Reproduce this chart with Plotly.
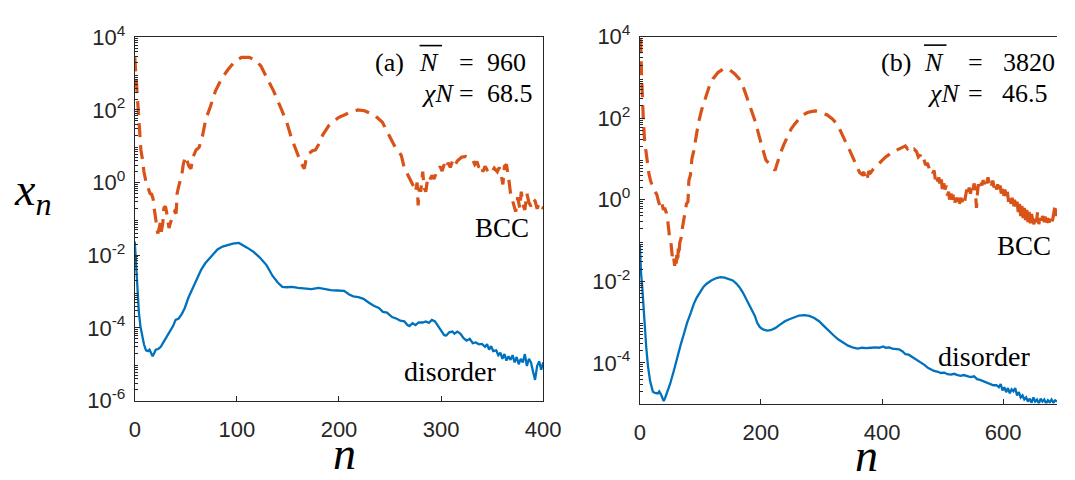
import plotly.graph_objects as go

# ---------------- data (y values given as log10(x_n)) ----------------
# Panel (a)  N = 960, chi N = 68.5
a_bcc_n = [0, 1, 2, 3, 4, 5, 6, 7.5, 9, 11, 13, 15, 16.5, 18, 19, 20.5, 21.5, 22.5, 24, 25, 26, 27.5, 28.5, 30, 31, 32,
           33.5, 35, 37, 39, 40.5, 41.5, 43, 44.5, 46, 47.5, 49.5, 51, 53, 55, 57, 60, 63, 66.5, 69.5, 74, 79, 85, 91.5,
           98, 104.5, 112, 118, 123.5, 130, 136, 142.5, 149, 153.5, 158, 163, 166, 167.5, 170, 174, 177, 180, 184, 190,
           199.5, 209, 218.5, 225, 235, 242.5, 250.5, 255, 258, 261, 264, 268, 271, 273, 275, 276.5, 277.5, 278.5, 280,
           282, 283.5, 285, 287, 289, 291, 293, 295, 297, 299, 301, 303, 305, 307, 309, 311, 313, 316, 320, 324, 328,
           331, 333, 335, 337, 339, 341, 343, 345, 348, 350, 352, 355, 357, 359, 360.5, 362, 364, 366, 368, 369.5, 371,
           373, 375, 377, 378.5, 380, 382, 384, 386, 388, 390, 392, 394, 396, 398, 400]
a_bcc_log = [3.45, 3.0, 2.5, 2.0, 1.5, 1.15, 0.9, 0.65, 0.3, 0.02, -0.15, -0.3, -0.32, -0.45, -0.7, -0.95, -1.15, -1.4,
             -1.25, -1.1, -1.35, -1.1, -0.7, -0.65, -0.78, -1.05, -1.25, -1.1, -0.95, -0.8, -0.85, -0.3, -0.1, 0.05,
             0.2, 0.5, 0.72, 0.62, 0.45, 0.38, 0.7, 0.9, 0.97, 1.31, 1.74, 2.09, 2.52, 2.86, 3.12, 3.34, 3.45, 3.45,
             3.38, 3.21, 2.86, 2.52, 2.09, 1.65, 1.22, 0.88, 0.53, 0.38, 0.6, 0.79, 0.88, 0.9, 1.05, 1.31, 1.57, 1.79,
             1.91, 2.0, 1.98, 1.85, 1.66, 1.22, 0.98, 0.88, 0.75, 0.4, 0.18, 0.02, -0.1, -0.25, 0.0, -0.63, -0.15,
             -0.25, 0.3, -0.15, -0.25, 0.15, 0.08, 0.2, 0.1, 0.24, 0.28, 0.45, 0.32, 0.5, 0.38, 0.55, 0.42, 0.58, 0.45,
             0.6, 0.7, 0.72, 0.65, 0.62, 0.5, 0.58, 0.42, 0.5, 0.3, 0.45, 0.35, 0.4, 0.3, 0.4, 0.3, 0.42, 0.18, -0.05,
             0.45, 0.5, 0.15, -0.3, -0.45, -0.6, -0.8, -0.4, -0.7, -0.25, -0.6, -0.75, -0.3, -0.55, -0.65, -0.45, -0.5,
             -0.72, -0.55, -0.68, -0.7]

a_dis_n = [0, 1, 2, 3, 4, 5.5, 7, 9, 11, 13, 14.5, 16, 17.5, 19, 20.5, 23, 25.5, 28, 30, 33, 35, 37.5, 40, 43, 46, 49,
           52.5, 56, 59, 62, 65, 69, 73, 77, 81, 86, 91, 96, 102, 106, 110, 116, 122, 129, 135, 140, 144.5, 149, 154,
           160, 167, 173, 180, 186, 192, 198, 205, 210, 214, 219, 224, 229, 234, 239, 243, 247, 252, 256, 260, 264,
           267, 269, 272, 275, 278, 282, 285, 288, 291, 294, 297, 300, 303, 305, 308, 311, 313, 316, 319, 322, 325,
           328, 331, 334, 337, 340, 343, 345, 347, 349, 351, 354, 356, 358, 360, 362, 364, 366, 368, 370, 372, 374,
           376, 378, 380, 382, 384, 386, 388, 390, 392, 394, 396, 398, 400]
a_dis_log = [-1.62, -2.1, -2.6, -3.1, -3.55, -3.95, -4.2, -4.45, -4.62, -4.64, -4.6, -4.72, -4.78, -4.7, -4.6, -4.58,
             -4.52, -4.4, -4.3, -4.15, -4.08, -3.95, -3.78, -3.74, -3.62, -3.45, -3.17, -2.95, -2.74, -2.55, -2.4,
             -2.22, -2.09, -1.95, -1.84, -1.76, -1.71, -1.68, -1.66, -1.72, -1.79, -1.9, -2.05, -2.27, -2.57, -2.75,
             -2.87, -2.88, -2.87, -2.9, -2.91, -2.93, -2.9, -2.94, -2.96, -2.97, -2.98, -3.08, -3.13, -3.15, -3.2,
             -3.3, -3.39, -3.45, -3.56, -3.58, -3.7, -3.74, -3.8, -3.82, -3.92, -3.95, -3.87, -3.92, -3.85, -3.85,
             -3.82, -3.86, -3.78, -3.82, -3.95, -4.05, -4.2, -4.21, -4.12, -4.1, -4.16, -4.1, -4.16, -4.28, -4.35,
             -4.3, -4.42, -4.4, -4.45, -4.44, -4.52, -4.45, -4.6, -4.5, -4.64, -4.62, -4.75, -4.68, -4.85, -4.72,
             -4.9, -4.78, -4.88, -4.75, -4.95, -4.8, -5.0, -4.85, -4.95, -4.72, -5.05, -4.85, -4.95, -5.2, -5.43,
             -5.05, -4.92, -5.15, -4.95]

# Panel (b)  N = 3820, chi N = 46.5
b_bcc_n = [0, 1.5, 2.5, 3.8, 6, 8, 10.8, 13, 15, 18, 20, 22, 25, 28, 31, 33, 35, 37, 39, 41, 44, 46, 47.5, 49, 51, 52,
           53.5, 55, 56.5, 57.5, 58.5, 60, 61, 62.5, 63.5, 64.5, 66, 68, 70, 72.5, 75, 77, 79.5, 81, 83.5, 86, 89, 93,
           97, 102, 108, 114, 121, 129, 137, 143, 148, 156, 164, 170, 175, 180, 186, 191, 196.5, 200, 204.5, 208,
           212.5, 217, 221, 223.5, 226, 229, 232, 238, 245, 250, 256, 261, 266.5, 272, 277, 283, 290, 296, 303,
           309.5, 318, 325.5, 331, 336.5, 342, 347, 351, 355, 359, 363, 367, 370, 372, 374, 376, 378, 381, 385, 390,
           395.5, 401, 406, 411, 417, 422, 428, 433, 438.5, 442, 445, 449.5, 453, 457, 460, 463, 466, 469, 472, 475,
           478, 481, 484, 486, 488, 490, 492, 494, 496, 498, 500, 502, 504, 506, 508, 510, 512, 514, 516, 518, 520,
           522, 524, 526, 528, 530, 532, 534, 536, 538, 540, 542, 544, 546, 548, 550, 552, 554, 556, 557, 559, 561,
           563, 565, 567, 569, 571, 573, 575, 577, 579, 581, 583, 585, 587, 589, 591, 593, 595, 597, 599, 601, 603,
           605, 607, 609, 611, 613, 615, 617, 619, 621, 623, 625, 627, 629, 631, 633, 635, 637, 639, 641, 643, 645,
           647, 649, 651, 653, 655, 657, 659, 661, 663, 665, 668, 670, 672, 674, 676, 678, 680, 682, 684, 686, 688,
           690]
b_bcc_log = [3.93, 3.89, 3.2, 2.59, 1.9, 1.43, 1.05, 0.8, 0.64, 0.45, 0.36, 0.29, 0.2, 0.13, -0.05, -0.12, -0.22,
             -0.12, -0.25, -0.2, -0.33, -0.5, -0.77, -0.9, -1.0, -1.25, -1.38, -1.3, -1.55, -1.62, -1.45, -1.6, -1.35,
             -1.55, -1.2, -1.38, -1.05, -0.95, -0.72, -0.5, -0.3, -0.1, -0.05, 0.47, 0.6, 1.0, 1.2, 1.55, 1.9, 2.2,
             2.51, 2.75, 2.97, 3.12, 3.2, 3.22, 3.19, 3.1, 2.97, 2.8, 2.59, 2.37, 2.13, 1.9, 1.59, 1.38, 1.13, 0.98,
             0.9, 0.82, 0.76, 0.72, 0.85, 1.0, 1.13, 1.36, 1.59, 1.74, 1.86, 1.96, 2.05, 2.1, 2.14, 2.16, 2.18, 2.16,
             2.12, 2.08, 1.98, 1.86, 1.7, 1.51, 1.35, 1.2, 1.05, 0.9, 0.8, 0.67, 0.62, 0.68, 0.52, 0.6, 0.55, 0.7,
             0.66, 0.74, 0.82, 0.9, 0.97, 1.05, 1.1, 1.17, 1.2, 1.24, 1.28, 1.32, 1.25, 1.3, 1.22, 1.24, 1.18, 1.05,
             1.1, 0.95, 1.0, 0.85, 0.9, 0.76, 0.8, 0.65, 0.72, 0.5, 0.62, 0.45, 0.55, 0.3, 0.5, 0.2, 0.4, 0.25, 0.35,
             0.1, 0.2, -0.05, 0.15, 0.0, 0.12, -0.08, 0.05, -0.05, 0.08, -0.1, 0.05, -0.05, 0.02, -0.1, 0.1, 0.25,
             0.12, 0.3, 0.15, 0.32, 0.2, 0.4, 0.25, -0.2, 0.05, 0.38, 0.3, 0.45, 0.35, 0.48, 0.38, 0.52, 0.4, 0.55,
             0.42, 0.5, 0.35, 0.47, 0.3, 0.42, 0.25, 0.38, 0.2, 0.35, 0.15, 0.3, 0.1, 0.25, 0.05, 0.2, -0.05, 0.12,
             -0.1, 0.05, -0.2, 0.0, -0.25, -0.05, -0.3, -0.1, -0.4, -0.15, -0.45, -0.2, -0.5, -0.25, -0.55, -0.3,
             -0.58, -0.35, -0.5, -0.6, -0.4, -0.55, -0.3, -0.6, -0.45, -0.58, -0.4, -0.55, -0.4, -0.58, -0.45, -0.56,
             -0.42, -0.55, -0.48, -0.3, -0.12, -0.4, -0.2]

b_dis_n = [0, 1, 2, 3.8, 6, 8, 10.5, 13.5, 17, 21.6, 25, 29.7, 32, 35, 37, 39.4, 42, 45.8, 50, 56.6, 62, 67.4, 73, 78,
           84, 89, 94, 99.7, 105, 110.4, 118, 126.6, 133, 140, 147, 153.5, 159, 164.3, 170, 175, 180, 185.8, 190,
           193.9, 198, 202, 206, 210, 216, 223.5, 231, 239.6, 247, 255.8, 263, 271.9, 280, 288, 296, 304.2, 312,
           320.3, 328, 336.4, 344, 352.6, 360, 367, 374, 382, 389, 395.6, 402, 406, 412, 417, 423, 428, 434, 438.7,
           444, 449, 454, 460, 465, 470, 476.4, 482, 486, 492.5, 497, 503, 508, 514, 519, 525, 530, 535, 541, 546,
           552, 557, 562, 567, 573, 578.6, 584, 589, 593, 596, 599, 602, 605, 608, 611, 614, 617, 620, 623, 626,
           629, 632, 635, 638, 641, 644, 647, 650, 653, 656, 659, 662, 665, 668, 671, 674, 677, 680, 683, 686, 689]
b_dis_log = [-1.1, -1.5, -1.8, -2.1, -2.7, -3.17, -3.6, -4.09, -4.45, -4.71, -4.74, -4.75, -4.7, -4.78, -4.85, -4.94,
             -4.85, -4.71, -4.52, -4.17, -3.85, -3.56, -3.28, -3.02, -2.78, -2.56, -2.4, -2.25, -2.14, -2.06, -1.98,
             -1.92, -1.9, -1.91, -1.94, -1.98, -2.05, -2.14, -2.27, -2.41, -2.55, -2.71, -2.85, -3.02, -3.12, -3.17,
             -3.2, -3.21, -3.2, -3.15, -3.07, -2.98, -2.93, -2.87, -2.84, -2.83, -2.85, -2.9, -2.98, -3.1, -3.22,
             -3.33, -3.43, -3.52, -3.58, -3.63, -3.65, -3.63, -3.64, -3.63, -3.62, -3.63, -3.6, -3.63, -3.62, -3.65,
             -3.66, -3.67, -3.72, -3.79, -3.8, -3.85, -3.88, -3.96, -4.0, -4.05, -4.13, -4.18, -4.2, -4.22, -4.25,
             -4.24, -4.28, -4.29, -4.27, -4.3, -4.32, -4.3, -4.33, -4.35, -4.33, -4.4, -4.42, -4.45, -4.48, -4.52,
             -4.55, -4.55, -4.6, -4.52, -4.68, -4.6, -4.72, -4.62, -4.75, -4.65, -4.7, -4.62, -4.8, -4.72, -4.85,
             -4.8, -4.9, -4.85, -4.95, -4.88, -4.98, -4.85, -4.95, -4.9, -5.0, -4.88, -4.95, -4.9, -5.0, -4.92,
             -4.97, -4.9, -4.98, -4.92, -4.95]

a_xticks = [0, 100, 200, 300, 400]
b_xticks = [0, 200, 400, 600]
a_yexp = [-6, -4, -2, 0, 2, 4]
b_yexp = [-4, -2, 0, 2, 4]

# ---------------- figure ----------------
W, H = 1075, 480
BLUE = "#0072BD"
ORANGE = "#D95319"
AX = "#262626"
TICKFONT = dict(family="Liberation Sans, Arial, sans-serif", size=22, color=AX)
SERIF = "Liberation Serif, Times New Roman, serif"


def px(x):
    return x / W


def py(y):
    return 1 - y / H


def to_val(logs):
    return [10 ** v for v in logs]


def minor_vals(lo, hi):
    return [m * 10 ** e for e in range(lo, hi) for m in range(2, 10)]


DASH = dict(color=ORANGE, width=3.2, dash="14px,8px")
SOLID = dict(color=BLUE, width=2.3)

fig = go.Figure()
fig.add_trace(go.Scatter(x=a_bcc_n, y=to_val(a_bcc_log), mode="lines", xaxis="x", yaxis="y",
                         line=DASH, showlegend=False))
fig.add_trace(go.Scatter(x=a_dis_n, y=to_val(a_dis_log), mode="lines", xaxis="x", yaxis="y",
                         line=SOLID, showlegend=False))
fig.add_trace(go.Scatter(x=b_bcc_n, y=to_val(b_bcc_log), mode="lines", xaxis="x2", yaxis="y2",
                         line=DASH, showlegend=False))
fig.add_trace(go.Scatter(x=b_dis_n, y=to_val(b_dis_log), mode="lines", xaxis="x2", yaxis="y2",
                         line=SOLID, showlegend=False))

common_x = dict(showline=True, linecolor=AX, linewidth=1, ticks="inside", ticklen=5, tickcolor=AX,
                showgrid=False, zeroline=False, tickfont=TICKFONT, ticklabelstandoff=9)
common_y = dict(type="log", showline=True, linecolor=AX, linewidth=1, ticks="inside", ticklen=5, tickcolor=AX,
                showgrid=False, zeroline=False, tickfont=TICKFONT, ticklabelstandoff=4)

fig.update_layout(
    width=W, height=H, margin=dict(l=0, r=0, t=0, b=0), paper_bgcolor="white", plot_bgcolor="white",
    xaxis=dict(domain=[px(131.7), px(549.5)], range=[0, 400], anchor="y", mirror=True,
               tickvals=a_xticks, ticktext=[str(v) for v in a_xticks], **common_x),
    yaxis=dict(domain=[py(409.3), py(22.7)], range=[-6, 4], anchor="x", mirror=True,
               tickvals=[10 ** e for e in a_yexp], ticktext=["10<sup>%d</sup>" % e for e in a_yexp],
               minor=dict(tickvals=minor_vals(-6, 4), ticks="inside", ticklen=3, tickcolor=AX), **common_y),
    xaxis2=dict(domain=[px(648.3), 1.0], range=[0, 689], anchor="y2", mirror=True,
                tickvals=b_xticks, ticktext=[str(v) for v in b_xticks], **common_x),
    yaxis2=dict(domain=[py(412.5), py(22.0)], range=[-5, 4], anchor="x2", mirror=False,
                tickvals=[10 ** e for e in b_yexp], ticktext=["10<sup>%d</sup>" % e for e in b_yexp],
                minor=dict(tickvals=minor_vals(-5, 4), ticks="inside", ticklen=3, tickcolor=AX), **common_y),
)

anns = []


def txt(x, y, s, size=26, xanchor="center", italic=False):
    anns.append(dict(x=px(x), y=py(y), xref="paper", yref="paper", text=("<i>%s</i>" % s) if italic else s,
                     showarrow=False, xanchor=xanchor, yanchor="middle",
                     font=dict(family=SERIF, size=size, color="black")))


# panel (a) labels
txt(392.5, 49, "(a)")
txt(433, 49, "N", italic=True)
txt(471.5, 49, "=")
txt(490, 49, "960", xanchor="left")
txt(460, 82, "χN", xanchor="right", italic=True)
txt(471.5, 82, "=")
txt(490, 82, "68.5", xanchor="left")
# panel (b) labels
txt(910, 49, "(b)")
txt(949, 49, "N", italic=True)
txt(992, 49, "=")
txt(1018, 49, "3820", xanchor="left")
txt(978, 83, "χN", xanchor="right", italic=True)
txt(992, 83, "=")
txt(1017, 83, "46.5", xanchor="left")
# curve labels
txt(507.5, 226, "BCC", size=27)
txt(1041, 245, "BCC", size=27)
txt(454, 378, "disorder", size=28)
txt(1000, 362, "disorder", size=28)
# axis titles
txt(28, 188, "x<sub>n</sub>", size=46, italic=True)
txt(346, 466, "n", size=46, italic=True)
txt(880, 468, "n", size=46, italic=True)

fig.update_layout(annotations=anns)

# overlines of N-bar
fig.add_shape(type="line", xref="paper", yref="paper", x0=px(423), x1=px(446), y0=py(31.5), y1=py(31.5),
              line=dict(color="black", width=1.6))
fig.add_shape(type="line", xref="paper", yref="paper", x0=px(939), x1=px(962), y0=py(31), y1=py(31),
              line=dict(color="black", width=1.6))

fig.write_html("out.html")
